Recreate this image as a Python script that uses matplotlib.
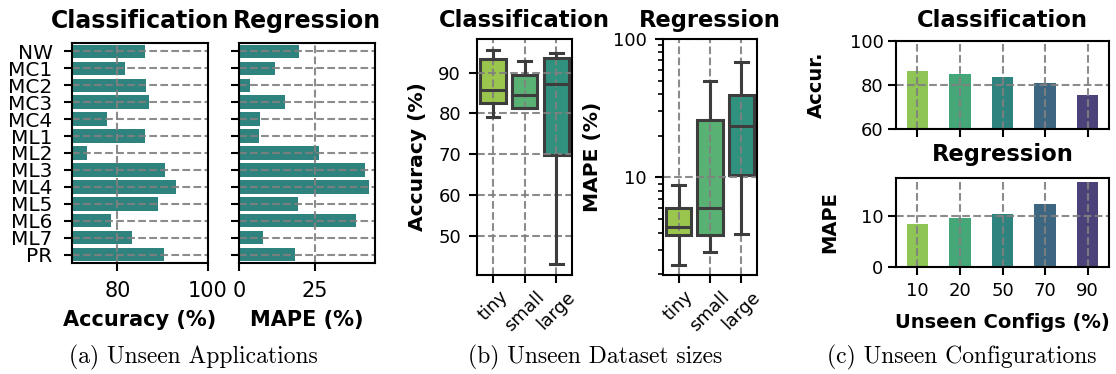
import colorsys

import matplotlib
matplotlib.use("Agg")
import matplotlib.pyplot as plt
import matplotlib.colors as mcolors
from matplotlib.ticker import FixedLocator, FuncFormatter, NullFormatter
import numpy as np

# ---------------- data ----------------
apps = ["NW", "MC1", "MC2", "MC3", "MC4", "ML1", "ML2", "ML3", "ML4",
        "ML5", "ML6", "ML7", "PR"]
app_accuracy = [86.1, 81.7, 86.3, 87.0, 77.7, 86.1, 73.3, 90.5, 93.0,
                89.0, 78.6, 83.2, 90.3]
app_mape = [19.7, 11.8, 3.5, 15.1, 6.8, 6.5, 26.3, 41.5, 42.8,
            19.4, 38.5, 7.8, 18.4]

sizes = ["tiny", "small", "large"]
size_acc_low = [79.1, 81.3, 43.0]
size_acc_q1 = [82.5, 81.3, 69.8]
size_acc_med = [85.8, 84.6, 87.1]
size_acc_q3 = [93.4, 89.4, 93.6]
size_acc_high = [95.6, 92.8, 94.8]

size_mape_low = [2.34, 2.89, 3.92]
size_mape_q1 = [3.83, 3.83, 10.45]
size_mape_med = [4.42, 6.07, 23.6]
size_mape_q3 = [6.03, 26.1, 39.4]
size_mape_high = [8.8, 49.4, 68.2]

unseen_pct = ["10", "20", "50", "70", "90"]
cfg_accuracy = [86.4, 85.0, 83.8, 80.9, 75.6]
cfg_mape = [8.43, 9.6, 10.4, 12.35, 16.5]

# ---------------- style ----------------
plt.rcParams.update({
    "font.family": ["DejaVu Sans"],
    "axes.linewidth": 1.5,
    "xtick.major.width": 1.5,
    "ytick.major.width": 1.5,
    "xtick.minor.width": 1.2,
    "ytick.minor.width": 1.2,
    "xtick.major.size": 6,
    "ytick.major.size": 6,
    "ytick.minor.size": 3.5,
    "xtick.major.pad": 5,
    "ytick.major.pad": 5,
    "axes.axisbelow": "line",
})

CAPTION_FS = 17
GRID = dict(color="gray", linestyle="--", linewidth=1.5, alpha=0.9)
BOX_LINE = "#3d3d3d"


def desat(color, amount=0.75):
    r, g, b = mcolors.to_rgb(color)
    h, l, s = colorsys.rgb_to_hls(r, g, b)
    return colorsys.hls_to_rgb(h, l, s * amount)


vir = plt.get_cmap("viridis")
bar_color = desat(vir(0.5))
box_colors = [desat(vir(p)) for p in (6 / 7, 5 / 7, 4 / 7)]
cfg_colors = [desat(vir(p)) for p in (5 / 6, 4 / 6, 3 / 6, 2 / 6, 1 / 6)]

W, H = 1116, 374
fig = plt.figure(figsize=(W / 100, H / 100), dpi=100)


def axes_px(x0, y0, x1, y1):
    return fig.add_axes([x0 / W, 1 - y1 / H, (x1 - x0) / W, (y1 - y0) / H])


def bold(size):
    return dict(fontsize=size, fontweight="bold")


# ---------------- (a) unseen applications ----------------
ypos = np.arange(len(apps))

ax = axes_px(72, 43, 208, 263)
ax.barh(ypos, app_accuracy, height=0.8, color=bar_color)
ax.set_xlim(70, 100)
ax.set_ylim(len(apps) - 0.5, -0.5)
ax.set_yticks(ypos)
ax.set_yticklabels(apps)
ax.set_xticks([80, 100])
ax.tick_params(axis="x", labelsize=15, pad=7)
ax.tick_params(axis="y", labelsize=14.5, pad=8)
ax.grid(True, **GRID)
ax.set_title("Classification", pad=10.5, **bold(17))
ax.set_xlabel("Accuracy (%)", **bold(15))
ax.xaxis.set_label_coords(0.5, -0.215)

ax = axes_px(239, 43, 375, 263)
ax.barh(ypos, app_mape, height=0.8, color=bar_color)
ax.set_ylim(len(apps) - 0.5, -0.5)
ax.set_yticks(ypos)
ax.set_yticklabels([])
ax.set_xticks([0, 25])
ax.tick_params(axis="x", labelsize=15, pad=7)
ax.grid(True, **GRID)
ax.set_title("Regression", pad=10.5, **bold(17))
ax.set_xlabel("MAPE (%)", **bold(15))
ax.xaxis.set_label_coords(0.5, -0.215)

fig.text(193 / W, 1 - 357 / H, "(a) Unseen Applications", family="cmr10",
         fontsize=CAPTION_FS, ha="center", va="center")


# ---------------- (b) unseen dataset sizes ----------------
def draw_boxes(ax, low, q1, med, q3, high):
    stats = [dict(whislo=a, q1=b, med=c, q3=d, whishi=e)
             for a, b, c, d, e in zip(low, q1, med, q3, high)]
    art = ax.bxp(stats, positions=range(len(stats)), widths=0.8,
                 patch_artist=True, showfliers=False, capwidths=0.4,
                 boxprops=dict(linewidth=2.2, edgecolor=BOX_LINE),
                 medianprops=dict(linewidth=2.2, color=BOX_LINE),
                 whiskerprops=dict(linewidth=2.2, color=BOX_LINE),
                 capprops=dict(linewidth=2.2, color=BOX_LINE))
    for patch, col in zip(art["boxes"], box_colors):
        patch.set_facecolor(col)
        patch.set_zorder(1)
    ax.set_xlim(-0.5, len(stats) - 0.5)
    ax.set_xticks(range(len(stats)))
    ax.set_xticklabels(sizes, rotation=45, ha="center")
    ax.tick_params(labelsize=13)
    ax.tick_params(axis="x", pad=3)
    ax.tick_params(axis="y", pad=5.5)


ax = axes_px(477, 39, 572, 275)
draw_boxes(ax, size_acc_low, size_acc_q1, size_acc_med, size_acc_q3, size_acc_high)
ax.autoscale(axis="y")
ax.set_yticks([50, 60, 70, 80, 90])
ax.grid(True, **GRID)
ax.set_title("Classification", pad=9, **bold(16.3))
ax.set_ylabel("Accuracy (%)", **bold(14.6))
ax.yaxis.set_label_coords(-0.53, 0.5)

ax = axes_px(663, 39, 757, 275)
ax.set_yscale("log")
draw_boxes(ax, size_mape_low, size_mape_q1, size_mape_med, size_mape_q3, size_mape_high)
ax.autoscale(axis="y")
ax.set_ylim(top=100)
ax.yaxis.set_major_locator(FixedLocator([10, 100]))
ax.yaxis.set_major_formatter(FuncFormatter(lambda v, _: f"{v:g}"))
ax.yaxis.set_minor_formatter(NullFormatter())
ax.grid(True, which="major", **GRID)
ax.set_title("Regression", pad=9, **bold(16.3))
ax.set_ylabel("MAPE (%)", **bold(14.6))
ax.yaxis.set_label_coords(-0.65, 0.5)

fig.text(595 / W, 1 - 357 / H, "(b) Unseen Dataset sizes", family="cmr10",
         fontsize=CAPTION_FS, ha="center", va="center")

# ---------------- (c) unseen configurations ----------------
xpos = np.arange(len(unseen_pct))

ax = axes_px(896, 41, 1109, 129)
ax.bar(xpos, cfg_accuracy, width=0.5, color=cfg_colors)
ax.set_ylim(60, 100)
ax.set_xlim(-0.5, len(xpos) - 0.5)
ax.set_xticks(xpos)
ax.set_xticklabels([])
ax.set_yticks([60, 80, 100])
ax.tick_params(labelsize=13)
ax.tick_params(axis="y", pad=3)
ax.grid(True, **GRID)
ax.set_title("Classification", pad=10, **bold(16.3))
ax.set_ylabel("Accur.", **bold(14))
ax.yaxis.set_label_coords(-0.327, 0.5)

ax = axes_px(896, 178, 1109, 267)
ax.bar(xpos, cfg_mape, width=0.5, color=cfg_colors)
ax.set_xlim(-0.5, len(xpos) - 0.5)
ax.set_xticks(xpos)
ax.set_xticklabels(unseen_pct)
ax.set_yticks([0, 10])
ax.tick_params(labelsize=13)
ax.tick_params(axis="y", pad=3)
ax.grid(True, **GRID)
ax.set_title("Regression", pad=12, **bold(16.3))
ax.set_ylabel("MAPE", **bold(14))
ax.yaxis.set_label_coords(-0.266, 0.5)
ax.set_xlabel("Unseen Configs (%)", **bold(14))
ax.xaxis.set_label_coords(0.5, -0.52)

fig.text(962 / W, 1 - 357 / H, "(c) Unseen Configurations", family="cmr10",
         fontsize=CAPTION_FS, ha="center", va="center")

fig.savefig("out.png", dpi=100)
